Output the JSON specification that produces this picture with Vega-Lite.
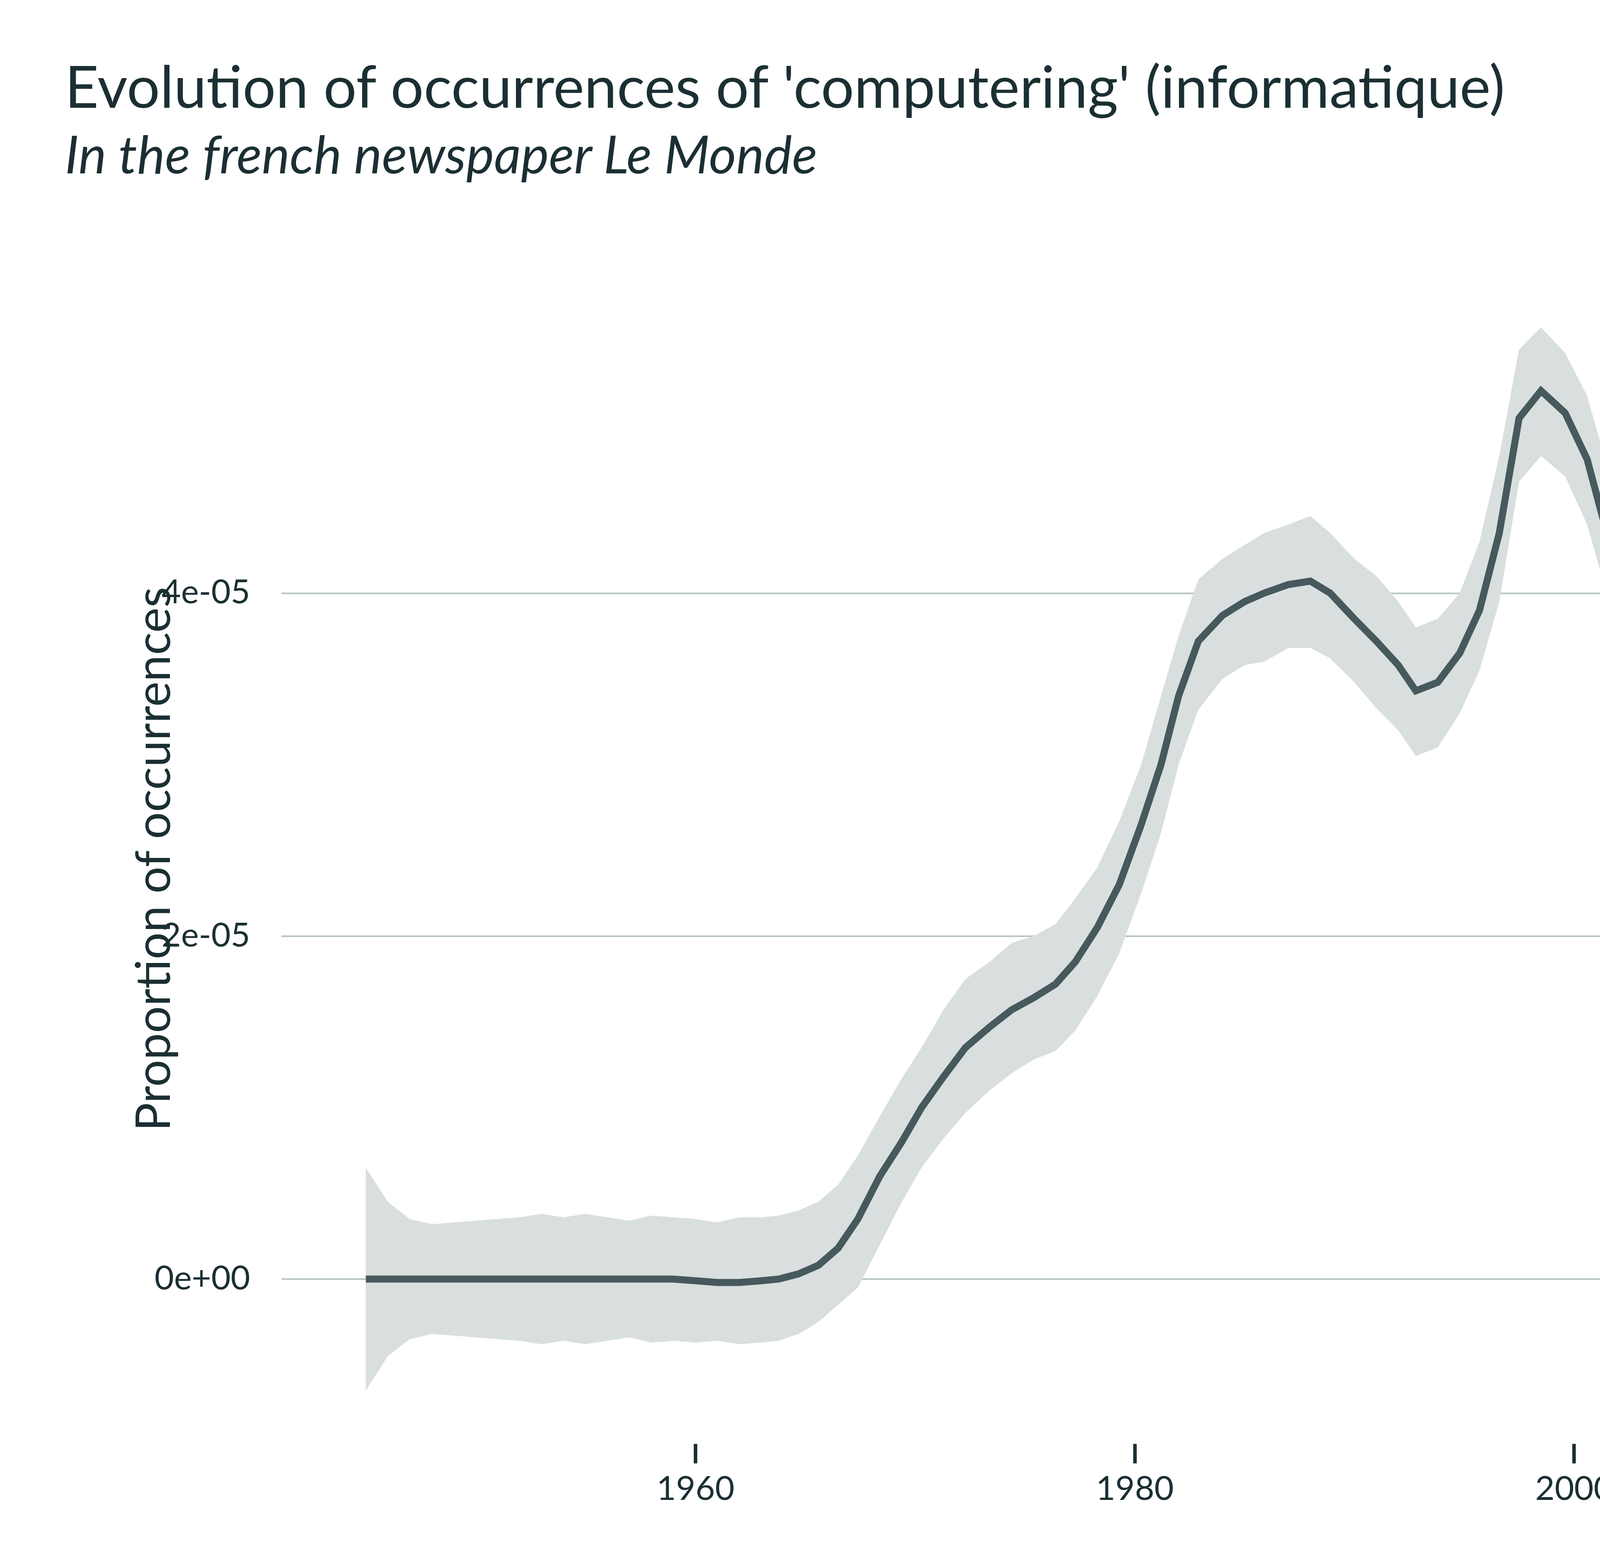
{
  "$schema": "https://vega.github.io/schema/vega-lite/v6.json",
  "width": 4763,
  "height": 2995,
  "autosize": {"type": "none"},
  "padding": {"left": 720, "top": 702, "right": 117, "bottom": 303},
  "background": "white",
  "title": {
    "text": "Evolution of occurrences of 'computering' (informatique)",
    "subtitle": "In the french newspaper Le Monde",
    "anchor": "start",
    "frame": "group",
    "dx": -554,
    "offset": 230,
    "font": "Lato",
    "fontSize": 150,
    "fontWeight": "normal",
    "color": "#1b2f33",
    "subtitleFont": "Lato",
    "subtitleFontSize": 135,
    "subtitleFontStyle": "italic",
    "subtitleColor": "#1b2f33",
    "subtitlePadding": 30,
    "limit": 0
  },
  "config": {"view": {"stroke": null}},
  "data": {
    "values": [
      {"year": 1945, "fit": 0, "lo": -0.65, "hi": 0.65},
      {"year": 1946, "fit": 0, "lo": -0.45, "hi": 0.45},
      {"year": 1947, "fit": 0, "lo": -0.35, "hi": 0.35},
      {"year": 1948, "fit": 0, "lo": -0.32, "hi": 0.32},
      {"year": 1949, "fit": 0, "lo": -0.33, "hi": 0.33},
      {"year": 1950, "fit": 0, "lo": -0.34, "hi": 0.34},
      {"year": 1951, "fit": 0, "lo": -0.35, "hi": 0.35},
      {"year": 1952, "fit": 0, "lo": -0.36, "hi": 0.36},
      {"year": 1953, "fit": 0, "lo": -0.38, "hi": 0.38},
      {"year": 1954, "fit": 0, "lo": -0.36, "hi": 0.36},
      {"year": 1955, "fit": 0, "lo": -0.38, "hi": 0.38},
      {"year": 1956, "fit": 0, "lo": -0.36, "hi": 0.36},
      {"year": 1957, "fit": 0, "lo": -0.34, "hi": 0.34},
      {"year": 1958, "fit": 0, "lo": -0.37, "hi": 0.37},
      {"year": 1959, "fit": 0, "lo": -0.36, "hi": 0.36},
      {"year": 1960, "fit": -0.01, "lo": -0.37, "hi": 0.35},
      {"year": 1961, "fit": -0.02, "lo": -0.36, "hi": 0.33},
      {"year": 1962, "fit": -0.02, "lo": -0.38, "hi": 0.36},
      {"year": 1963, "fit": -0.01, "lo": -0.37, "hi": 0.36},
      {"year": 1963.8, "fit": 0, "lo": -0.36, "hi": 0.37},
      {"year": 1964.7, "fit": 0.03, "lo": -0.32, "hi": 0.4},
      {"year": 1965.6, "fit": 0.08, "lo": -0.25, "hi": 0.45},
      {"year": 1966.5, "fit": 0.18, "lo": -0.15, "hi": 0.55},
      {"year": 1967.4, "fit": 0.35, "lo": -0.05, "hi": 0.72},
      {"year": 1968.4, "fit": 0.6, "lo": 0.2, "hi": 0.95},
      {"year": 1969.4, "fit": 0.8, "lo": 0.45, "hi": 1.17},
      {"year": 1970.3, "fit": 1.0, "lo": 0.65, "hi": 1.35},
      {"year": 1971.3, "fit": 1.18, "lo": 0.82, "hi": 1.57},
      {"year": 1972.3, "fit": 1.35, "lo": 0.97, "hi": 1.75},
      {"year": 1973.4, "fit": 1.47, "lo": 1.1, "hi": 1.85},
      {"year": 1974.4, "fit": 1.57, "lo": 1.2, "hi": 1.96},
      {"year": 1975.4, "fit": 1.64, "lo": 1.28, "hi": 2.0},
      {"year": 1976.4, "fit": 1.72, "lo": 1.33, "hi": 2.07},
      {"year": 1977.3, "fit": 1.85, "lo": 1.45, "hi": 2.22},
      {"year": 1978.3, "fit": 2.05, "lo": 1.65, "hi": 2.4},
      {"year": 1979.3, "fit": 2.3, "lo": 1.9, "hi": 2.67},
      {"year": 1980.3, "fit": 2.65, "lo": 2.25, "hi": 3.0},
      {"year": 1981.2, "fit": 3.0, "lo": 2.6, "hi": 3.4},
      {"year": 1982.0, "fit": 3.4, "lo": 3.0, "hi": 3.75},
      {"year": 1982.9, "fit": 3.72, "lo": 3.32, "hi": 4.08},
      {"year": 1984.0, "fit": 3.87, "lo": 3.5, "hi": 4.2},
      {"year": 1985.0, "fit": 3.95, "lo": 3.58, "hi": 4.28},
      {"year": 1985.9, "fit": 4.0, "lo": 3.6, "hi": 4.35},
      {"year": 1987.0, "fit": 4.05, "lo": 3.68, "hi": 4.4},
      {"year": 1988.0, "fit": 4.07, "lo": 3.68, "hi": 4.45},
      {"year": 1988.9, "fit": 4.0, "lo": 3.62, "hi": 4.35},
      {"year": 1990.0, "fit": 3.85, "lo": 3.48, "hi": 4.2},
      {"year": 1991.0, "fit": 3.72, "lo": 3.33, "hi": 4.1},
      {"year": 1992.0, "fit": 3.58, "lo": 3.2, "hi": 3.95},
      {"year": 1992.8, "fit": 3.43, "lo": 3.05, "hi": 3.8},
      {"year": 1993.8, "fit": 3.48, "lo": 3.1, "hi": 3.85},
      {"year": 1994.8, "fit": 3.65, "lo": 3.3, "hi": 4.0},
      {"year": 1995.7, "fit": 3.9, "lo": 3.55, "hi": 4.3},
      {"year": 1996.6, "fit": 4.35, "lo": 3.95, "hi": 4.8},
      {"year": 1997.5, "fit": 5.02, "lo": 4.65, "hi": 5.42},
      {"year": 1998.5, "fit": 5.18, "lo": 4.8, "hi": 5.55},
      {"year": 1999.6, "fit": 5.05, "lo": 4.68, "hi": 5.4},
      {"year": 2000.6, "fit": 4.78, "lo": 4.4, "hi": 5.15},
      {"year": 2001.6, "fit": 4.3, "lo": 3.95, "hi": 4.7},
      {"year": 2002.5, "fit": 3.55, "lo": 3.1, "hi": 3.95},
      {"year": 2003.5, "fit": 3.02, "lo": 2.62, "hi": 3.42},
      {"year": 2004.4, "fit": 2.67, "lo": 2.3, "hi": 3.03},
      {"year": 2005.4, "fit": 2.45, "lo": 2.07, "hi": 2.83},
      {"year": 2006.3, "fit": 2.43, "lo": 2.05, "hi": 2.82},
      {"year": 2007.3, "fit": 2.68, "lo": 2.3, "hi": 3.05},
      {"year": 2008.3, "fit": 2.85, "lo": 2.48, "hi": 3.22},
      {"year": 2009.3, "fit": 3.0, "lo": 2.65, "hi": 3.37},
      {"year": 2010.2, "fit": 3.17, "lo": 2.8, "hi": 3.55},
      {"year": 2011.2, "fit": 3.33, "lo": 2.95, "hi": 3.72},
      {"year": 2012.2, "fit": 3.5, "lo": 3.13, "hi": 3.88},
      {"year": 2013.2, "fit": 3.63, "lo": 3.25, "hi": 4.02},
      {"year": 2014.1, "fit": 3.72, "lo": 3.37, "hi": 4.08},
      {"year": 2015.1, "fit": 3.77, "lo": 3.4, "hi": 4.12},
      {"year": 2016.2, "fit": 3.73, "lo": 3.35, "hi": 4.1},
      {"year": 2017.1, "fit": 3.63, "lo": 3.27, "hi": 3.98},
      {"year": 2018.1, "fit": 3.47, "lo": 3.12, "hi": 3.82},
      {"year": 2019.1, "fit": 3.25, "lo": 2.92, "hi": 3.6},
      {"year": 2020.1, "fit": 2.98, "lo": 2.62, "hi": 3.37},
      {"year": 2021.1, "fit": 2.65, "lo": 2.2, "hi": 3.12},
      {"year": 2022.0, "fit": 2.25, "lo": 1.6, "hi": 2.9}
    ]
  },
  "encoding": {
    "x": {
      "field": "year",
      "type": "quantitative",
      "scale": {"domain": [1941.15, 2025.85], "nice": false, "zero": false},
      "axis": {
        "title": null,
        "values": [1960, 1980, 2000, 2020],
        "format": "d",
        "grid": false,
        "domain": false,
        "ticks": true,
        "tickSize": 50,
        "tickWidth": 9,
        "tickColor": "#1b2f33",
        "labelFont": "Lato",
        "labelFontSize": 86,
        "labelColor": "#1b2f33",
        "labelPadding": 25,
        "labelLimit": 0
      }
    }
  },
  "layer": [
    {
      "mark": {"type": "area", "color": "#d9dedf", "opacity": 1},
      "encoding": {
        "y": {
          "field": "lo",
          "type": "quantitative",
          "scale": {"domain": [-0.96, 5.86], "nice": false, "zero": false},
          "axis": {
            "title": "Proportion of occurrences",
            "values": [0, 2, 4],
            "labelExpr": "datum.value == 0 ? '0e+00' : datum.value + 'e-05'",
            "grid": true,
            "gridColor": "#b5c4c1",
            "gridWidth": 4,
            "domain": false,
            "ticks": false,
            "labelFont": "Lato",
            "labelFontSize": 86,
            "labelColor": "#1b2f33",
            "labelPadding": 80,
            "labelLimit": 0,
            "titleFont": "Lato",
            "titleFontSize": 122,
            "titleFontWeight": "normal",
            "titleColor": "#1b2f33",
            "titlePadding": 60
          }
        },
        "y2": {"field": "hi"}
      }
    },
    {
      "mark": {"type": "line", "color": "#46595d", "strokeWidth": 18},
      "encoding": {"y": {"field": "fit", "type": "quantitative"}}
    }
  ]
}
